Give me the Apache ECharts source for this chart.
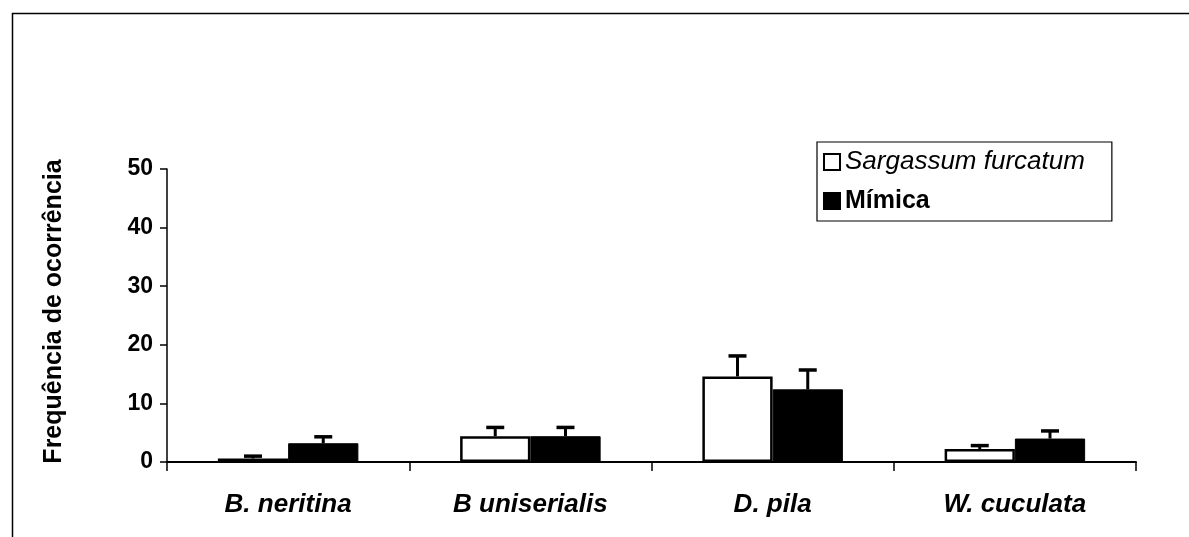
<!DOCTYPE html>
<html>
<head>
<meta charset="utf-8">
<script src="https://cdn.jsdelivr.net/npm/echarts@6/dist/echarts.min.js"></script>
<style>
html,body{margin:0;padding:0;background:#fff;}
#chart{width:1189px;height:537px;}
</style>
</head>
<body>
<div id="chart"></div>
<script>
var categories = ['B. neritina', 'B uniserialis', 'D. pila', 'W. cuculata'];
var seriesNames = ['Sargassum furcatum', 'Mímica'];
var sargassum = [0.6, 4.4, 14.6, 2.2];
var sargassumErr = [0.4, 1.5, 3.5, 0.6];
var mimica = [3.2, 4.4, 12.4, 4.0];
var mimicaErr = [1.1, 1.5, 3.3, 1.3];
var yTicks = [0, 10, 20, 30, 40, 50];

var FONT = "'Liberation Sans', Arial, sans-serif";
var BAR_FRAC = 0.29;

function errData(vals, errs, side) {
  return vals.map(function (v, i) { return [i, v, v + errs[i], side]; });
}

function renderErr(params, api) {
  var idx = api.value(0);
  var base = api.coord([idx, api.value(1)]);
  var top = api.coord([idx, api.value(2)]);
  var band = api.size([1, 0])[0];
  var x = base[0] + api.value(3) * band * BAR_FRAC / 2;
  var half = 9;
  return {
    type: 'group',
    children: [
      { type: 'line', shape: { x1: x, y1: base[1], x2: x, y2: top[1] }, style: { stroke: '#000', lineWidth: 3 } },
      { type: 'line', shape: { x1: x - half, y1: top[1], x2: x + half, y2: top[1] }, style: { stroke: '#000', lineWidth: 3.5 } }
    ]
  };
}

var chart = echarts.init(document.getElementById('chart'));
chart.setOption({
  animation: false,
  backgroundColor: '#fff',
  graphic: [{
    type: 'rect', left: 10, top: 11, silent: true,
    shape: { x: 0, y: 0, width: 1300, height: 700 },
    style: { fill: 'none', stroke: '#000', lineWidth: 1.5 }
  }],
  grid: { left: 167, right: 53, top: 169, bottom: 75, containLabel: false },
  legend: {
    orient: 'vertical',
    left: 817, top: 142,
    padding: [5, 27, 5, 6],
    itemGap: 9,
    itemWidth: 16, itemHeight: 16,
    icon: 'rect',
    borderColor: '#000', borderWidth: 1.2,
    backgroundColor: '#fff',
    data: seriesNames,
    formatter: function (n) { return n === seriesNames[0] ? '{i|' + n + '}' : '{b|' + n + '}'; },
    textStyle: {
      fontFamily: FONT, fontSize: 26, color: '#000', lineHeight: 30,
      rich: {
        i: { fontFamily: FONT, fontSize: 26, fontStyle: 'italic', color: '#000', lineHeight: 30 },
        b: { fontFamily: FONT, fontSize: 25, fontWeight: 'bold', color: '#000', lineHeight: 30 }
      }
    }
  },
  xAxis: {
    type: 'category',
    data: categories,
    axisLine: { lineStyle: { color: '#000', width: 2 } },
    axisTick: { show: true, length: 9, lineStyle: { color: '#000', width: 1.5 } },
    axisLabel: { color: '#000', fontFamily: FONT, fontSize: 26, fontWeight: 'bold', fontStyle: 'italic', margin: 30 }
  },
  yAxis: {
    type: 'value',
    min: yTicks[0], max: yTicks[yTicks.length - 1], interval: 10,
    name: 'Frequência de ocorrência',
    nameLocation: 'middle',
    nameGap: 100,
    nameTextStyle: { color: '#000', fontFamily: FONT, fontSize: 25, fontWeight: 'bold', padding: [0, 0, 0, 8] },
    axisLine: { show: true, lineStyle: { color: '#000', width: 1.5 } },
    axisTick: { show: true, length: 7, lineStyle: { color: '#000', width: 1.5 } },
    splitLine: { show: false },
    axisLabel: { color: '#000', fontFamily: FONT, fontSize: 23, fontWeight: 'bold', margin: 14 }
  },
  series: [
    {
      name: seriesNames[0], type: 'bar', data: sargassum,
      barWidth: (BAR_FRAC * 100) + '%', barGap: '0%',
      itemStyle: { color: '#fff', borderColor: '#000', borderWidth: 2.5 }
    },
    {
      name: seriesNames[1], type: 'bar', data: mimica,
      barWidth: (BAR_FRAC * 100) + '%', barGap: '0%',
      itemStyle: { color: '#000', borderColor: '#000', borderWidth: 1 }
    },
    {
      type: 'custom', renderItem: renderErr, data: errData(sargassum, sargassumErr, -1),
      encode: { x: 0, y: [1, 2] }, z: 5, silent: true
    },
    {
      type: 'custom', renderItem: renderErr, data: errData(mimica, mimicaErr, 1),
      encode: { x: 0, y: [1, 2] }, z: 5, silent: true
    }
  ]
});
</script>
</body>
</html>
